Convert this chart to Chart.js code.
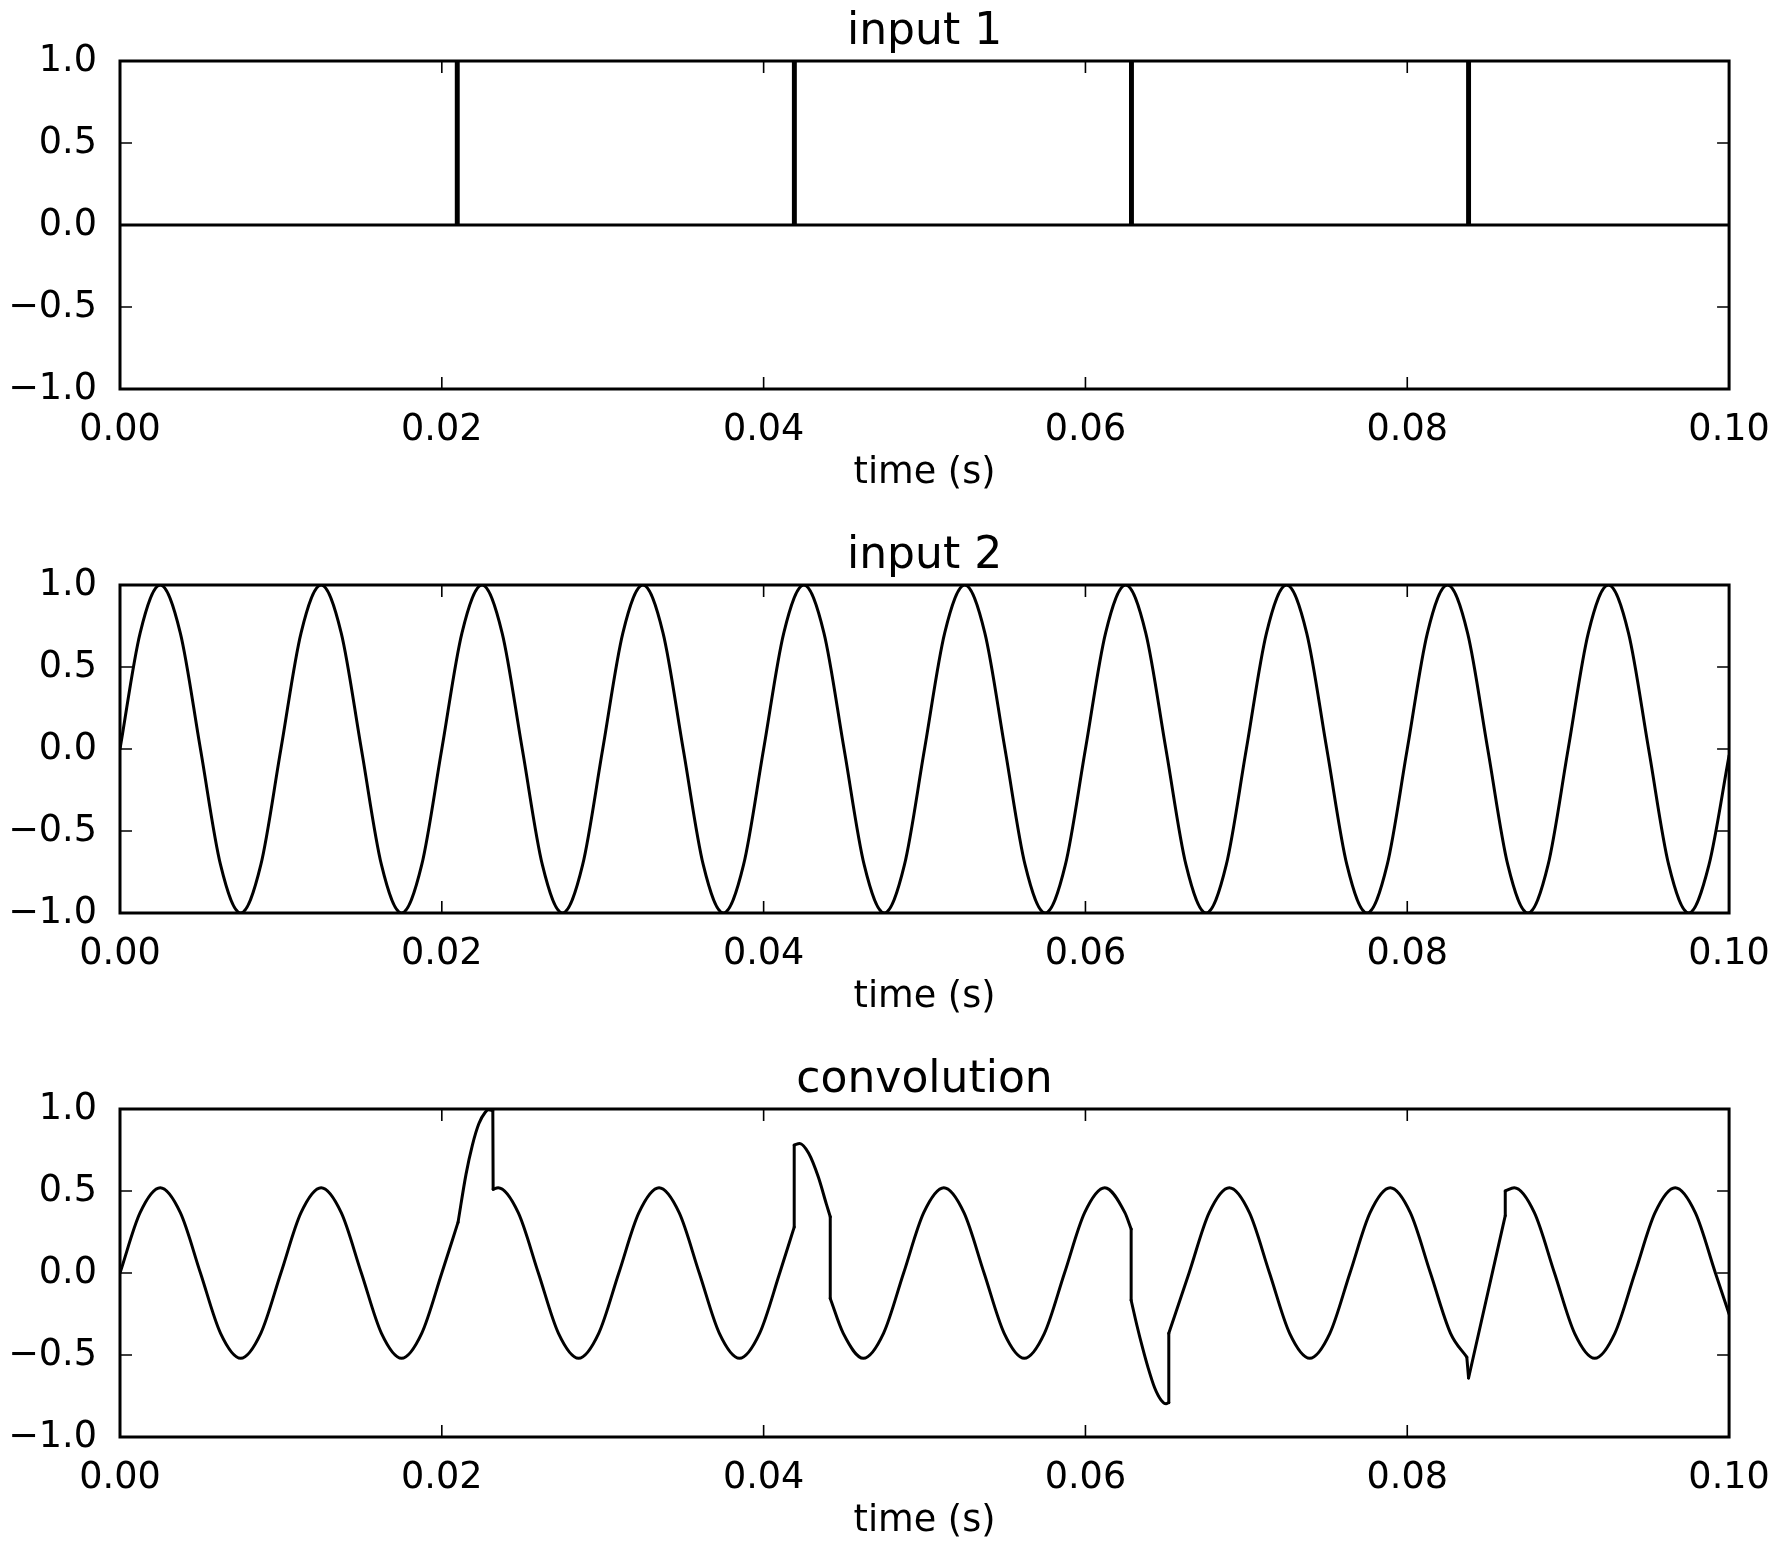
<!DOCTYPE html>
<html>
<head>
<meta charset="utf-8">
<script src="https://cdn.jsdelivr.net/npm/chart.js@4.4.0/dist/chart.umd.min.js"></script>
<style>
html, body { margin: 0; padding: 0; background: #fff; overflow: hidden; }
#wrap { position: relative; width: 1781px; height: 1551px; background: #fff; }
canvas { position: absolute; left: 0; }
</style>
</head>
<body>
<div id="wrap">
  <canvas id="c1" width="1781" height="524" style="top:0px"></canvas>
  <canvas id="c2" width="1781" height="524" style="top:524px"></canvas>
  <canvas id="c3" width="1781" height="503" style="top:1048px"></canvas>
</div>
<script>
// ---------------- data ----------------
const titles = ['input 1', 'input 2', 'convolution'];
const xAxisLabel = 'time (s)';
const xTickValues = [0, 0.02, 0.04, 0.06, 0.08, 0.1];
const xTickLabels = ['0.00', '0.02', '0.04', '0.06', '0.08', '0.10'];
const yTickValues = [-1, -0.5, 0, 0.5, 1];
const yTickLabels = ['\u22121.0', '\u22120.5', '0.0', '0.5', '1.0'];

// input 1: impulse train
const input1Time  = [0, 0.0209, 0.0209, 0.02102, 0.02102, 0.04185, 0.04185, 0.04197, 0.04197,
                     0.0628, 0.0628, 0.06292, 0.06292, 0.08375, 0.08375, 0.08387, 0.08387, 0.1];
const input1Value = [0, 0, 1, 1, 0, 0, 1, 1, 0,
                     0, 1, 1, 0, 0, 1, 1, 0, 0];

// input 2: 100 Hz sine
const input2Time = [
  0, 0.00125, 0.0025, 0.00375, 0.005, 0.00625, 0.0075, 0.00875,
  0.01, 0.01125, 0.0125, 0.01375, 0.015, 0.01625, 0.0175, 0.01875,
  0.02, 0.02125, 0.0225, 0.02375, 0.025, 0.02625, 0.0275, 0.02875,
  0.03, 0.03125, 0.0325, 0.03375, 0.035, 0.03625, 0.0375, 0.03875,
  0.04, 0.04125, 0.0425, 0.04375, 0.045, 0.04625, 0.0475, 0.04875,
  0.05, 0.05125, 0.0525, 0.05375, 0.055, 0.05625, 0.0575, 0.05875,
  0.06, 0.06125, 0.0625, 0.06375, 0.065, 0.06625, 0.0675, 0.06875,
  0.07, 0.07125, 0.0725, 0.07375, 0.075, 0.07625, 0.0775, 0.07875,
  0.08, 0.08125, 0.0825, 0.08375, 0.085, 0.08625, 0.0875, 0.08875,
  0.09, 0.09125, 0.0925, 0.09375, 0.095, 0.09625, 0.0975, 0.09875,
  0.1
];
const input2Value = [
  0, 0.707, 1, 0.707, 0, -0.707, -1, -0.707,
  0, 0.707, 1, 0.707, 0, -0.707, -1, -0.707,
  0, 0.707, 1, 0.707, 0, -0.707, -1, -0.707,
  0, 0.707, 1, 0.707, 0, -0.707, -1, -0.707,
  0, 0.707, 1, 0.707, 0, -0.707, -1, -0.707,
  0, 0.707, 1, 0.707, 0, -0.707, -1, -0.707,
  0, 0.707, 1, 0.707, 0, -0.707, -1, -0.707,
  0, 0.707, 1, 0.707, 0, -0.707, -1, -0.707,
  0, 0.707, 1, 0.707, 0, -0.707, -1, -0.707,
  0, 0.707, 1, 0.707, 0, -0.707, -1, -0.707,
  -0.04
];

// convolution: smooth pieces separated by null (pieces are joined by straight jumps)
const convTime = [
  0, 0.00125, 0.0025, 0.00375, 0.005, 0.00625, 0.0075, 0.00875, 0.01, 0.01125,
  0.0125, 0.01375, 0.015, 0.01625, 0.0175, 0.01875, 0.02, 0.02101,
  0.02101,
  0.02101, 0.0215, 0.0219, 0.0223, 0.0227, 0.0229, 0.02317,
  0.02317,
  0.02319, 0.0235, 0.02475, 0.026, 0.02725, 0.0285, 0.02975, 0.031, 0.03225,
  0.0335, 0.03475, 0.036, 0.03725, 0.0385, 0.03975, 0.041, 0.0419,
  0.0419,
  0.0419, 0.04224, 0.0428, 0.0434, 0.0439, 0.04414,
  0.04414,
  0.04414, 0.04495, 0.0462, 0.04745, 0.0487, 0.04995, 0.0512, 0.05245, 0.0537,
  0.05495, 0.0562, 0.05745, 0.0587, 0.05995, 0.0612, 0.06245, 0.06284,
  0.06284,
  0.06284, 0.0632, 0.06356, 0.0639, 0.0643, 0.0647, 0.06501, 0.06518,
  0.06518,
  0.06518, 0.06644, 0.06769, 0.06894, 0.07019, 0.07144, 0.07269, 0.07394, 0.07519,
  0.07644, 0.07769, 0.07894, 0.08019, 0.08144, 0.08269, 0.0837,
  0.0837,
  0.08381, 0.08609,
  0.08609,
  0.08609, 0.08665, 0.0879, 0.08915, 0.0904, 0.09165, 0.0929, 0.09415, 0.0954,
  0.09665, 0.0979, 0.09915, 0.1
];
const convValue = [
  0, 0.368, 0.52, 0.368, 0, -0.368, -0.52, -0.368, 0, 0.368,
  0.52, 0.368, 0, -0.368, -0.52, -0.368, 0, 0.31,
  null,
  0.31, 0.6, 0.78, 0.91, 0.98, 0.995, 0.99,
  null,
  0.51, 0.52, 0.368, 0, -0.368, -0.52, -0.368, 0, 0.368,
  0.52, 0.368, 0, -0.368, -0.52, -0.368, 0, 0.28,
  null,
  0.78, 0.79, 0.73, 0.585, 0.42, 0.343,
  null,
  -0.155, -0.368, -0.52, -0.368, 0, 0.368, 0.52, 0.368, 0,
  -0.368, -0.52, -0.368, 0, 0.368, 0.52, 0.368, 0.268,
  null,
  -0.166, -0.32, -0.46, -0.58, -0.7, -0.775, -0.797, -0.79,
  null,
  -0.368, 0, 0.368, 0.52, 0.368, 0, -0.368, -0.52, -0.368,
  0, 0.368, 0.52, 0.368, 0, -0.368, -0.513,
  null,
  -0.64, 0.35,
  null,
  0.5, 0.52, 0.368, 0, -0.368, -0.52, -0.368, 0, 0.368,
  0.52, 0.368, 0, -0.25
];

// ---------------- helpers ----------------
function toPoints(ts, vs) {
  return ts.map((t, i) => ({ x: t, y: vs[i] }));
}
function jumpPoints(ts, vs) {
  const out = [];
  for (let i = 1; i < vs.length - 1; i++) {
    if (vs[i] === null) {
      out.push({ x: ts[i - 1], y: vs[i - 1] }, { x: ts[i + 1], y: vs[i + 1] }, { x: ts[i + 1], y: null });
    }
  }
  return out;
}

Chart.defaults.font.family = "'DejaVu Sans', sans-serif";
Chart.defaults.color = '#000';

const TICK_FONT = 36.6;
const TITLE_FONT = 44;

const framePlugin = {
  id: 'mplFrame',
  afterDatasetsDraw(chart) {
    const { ctx, chartArea: a, scales } = chart;
    const xs = scales.x, ys = scales.y;
    ctx.save();
    ctx.strokeStyle = '#000';
    ctx.lineWidth = 1.6;
    ctx.beginPath();
    const L = 12;
    xTickValues.forEach(v => {
      const px = xs.getPixelForValue(v);
      ctx.moveTo(px, a.bottom); ctx.lineTo(px, a.bottom - L);
      ctx.moveTo(px, a.top); ctx.lineTo(px, a.top + L);
    });
    yTickValues.forEach(v => {
      const py = ys.getPixelForValue(v);
      ctx.moveTo(a.left, py); ctx.lineTo(a.left + L, py);
      ctx.moveTo(a.right, py); ctx.lineTo(a.right - L, py);
    });
    ctx.stroke();
    ctx.lineWidth = 3;
    ctx.strokeRect(a.left, a.top, a.right - a.left, a.bottom - a.top);
    ctx.restore();
  }
};

function lineDataset(data, smooth) {
  return {
    data,
    borderColor: '#000',
    backgroundColor: '#000',
    borderWidth: 3,
    pointRadius: 0,
    pointHoverRadius: 0,
    fill: false,
    spanGaps: false,
    tension: 0,
    cubicInterpolationMode: smooth ? 'monotone' : 'default',
    borderJoinStyle: 'round',
    borderCapStyle: 'round'
  };
}

function makeChart(canvasId, title, datasets, bottomPad) {
  return new Chart(document.getElementById(canvasId), {
    type: 'line',
    data: { datasets },
    options: {
      responsive: false,
      maintainAspectRatio: false,
      animation: false,
      events: [],
      layout: { padding: { left: 0, right: 51, top: 0, bottom: bottomPad } },
      plugins: {
        legend: { display: false },
        tooltip: { enabled: false },
        title: {
          display: true,
          text: title,
          fullSize: false,
          color: '#000',
          font: { size: TITLE_FONT, weight: 'normal', lineHeight: 1.2 },
          padding: { top: 6.5, bottom: 1.7 }
        }
      },
      scales: {
        x: {
          type: 'linear',
          min: 0,
          max: 0.1,
          grid: { display: false },
          border: { display: false },
          afterBuildTicks: s => { s.ticks = xTickValues.map(v => ({ value: v })); },
          afterFit: s => { s.height = 114; },
          ticks: {
            autoSkip: false,
            maxRotation: 0,
            minRotation: 0,
            padding: 11.2,
            color: '#000',
            font: { size: TICK_FONT },
            callback: (v, i) => xTickLabels[i]
          },
          title: {
            display: true,
            text: xAxisLabel,
            color: '#000',
            font: { size: TICK_FONT, weight: 'normal' },
            padding: { top: 0, bottom: 7.2 }
          }
        },
        y: {
          type: 'linear',
          min: -1,
          max: 1,
          grid: { display: false },
          border: { display: false },
          afterBuildTicks: s => { s.ticks = yTickValues.map(v => ({ value: v })); },
          afterFit: s => { s.width = 120; },
          ticks: {
            autoSkip: false,
            padding: 15,
            color: '#000',
            font: { size: TICK_FONT },
            callback: (v, i) => yTickLabels[i]
          }
        }
      }
    },
    plugins: [framePlugin]
  });
}

makeChart('c1', titles[0], [lineDataset(toPoints(input1Time, input1Value), false)], 21);
makeChart('c2', titles[1], [lineDataset(toPoints(input2Time, input2Value), true)], 21);
makeChart('c3', titles[2], [
  lineDataset(toPoints(convTime, convValue), true),
  lineDataset(jumpPoints(convTime, convValue), false)
], 0);
</script>
</body>
</html>
